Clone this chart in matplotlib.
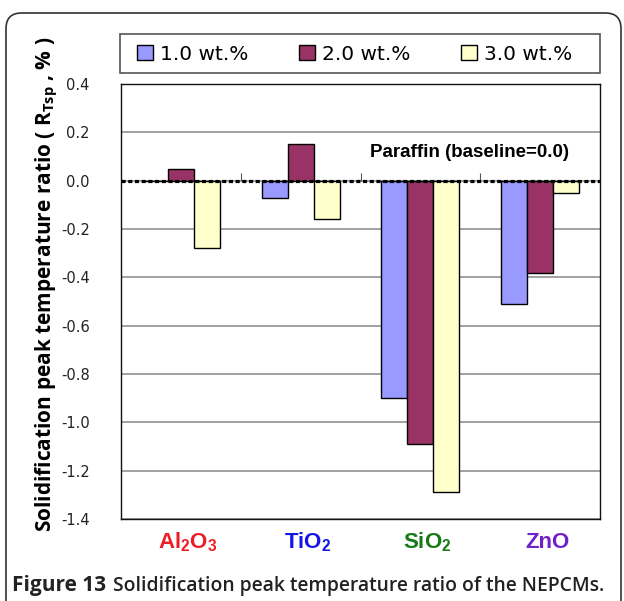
import numpy as np
import matplotlib.pyplot as plt
from matplotlib.patches import FancyBboxPatch, Patch, Rectangle

plt.rcParams['mathtext.fontset'] = 'custom'
plt.rcParams['mathtext.rm'] = 'Liberation Sans:bold'
plt.rcParams['mathtext.bf'] = 'Liberation Sans:bold'
plt.rcParams['mathtext.it'] = 'Liberation Sans:bold'

# data
materials = ['Al$_2$O$_3$', 'TiO$_2$', 'SiO$_2$', 'ZnO']
material_colors = ['#ee1c24', '#1515e6', '#167a16', '#7020c8']
series_names = ['1.0 wt.%', '2.0 wt.%', '3.0 wt.%']
series_colors = ['#9999ff', '#993366', '#ffffcc']
wt1 = [0.0, -0.07, -0.90, -0.51]
wt2 = [0.05, 0.15, -1.09, -0.38]
wt3 = [-0.28, -0.16, -1.29, -0.05]
yticks = [0.4, 0.2, 0.0, -0.2, -0.4, -0.6, -0.8, -1.0, -1.2, -1.4]

fig = plt.figure(figsize=(6.24, 6.01), dpi=100)
ax = fig.add_axes([121 / 624, 82 / 601, 479 / 624, 435 / 601])

x = np.arange(len(materials))
w = 0.217
for i, (vals, c, name) in enumerate(zip([wt1, wt2, wt3], series_colors, series_names)):
    ax.bar(x + (i - 1) * w, vals, w, color=c, edgecolor='black', linewidth=1.0,
           label=name, zorder=3)

ax.set_xlim(-0.5, len(materials) - 0.5)
ax.set_ylim(-1.4, 0.4)
ax.set_yticks(yticks)
ax.set_yticklabels([f'{v:.1f}' for v in yticks], family='DejaVu Sans',
                   fontsize=10.5, color='#222222')
ax.tick_params(axis='y', length=0, pad=22.5)
ax.set_xticks([])
ax.yaxis.grid(True, color='#888888', linewidth=1.1, zorder=0)
ax.set_axisbelow(True)
for s in ax.spines.values():
    s.set_linewidth(1.0)
    s.set_color('#111111')

# baseline
ax.axhline(0, color='black', linewidth=2.3, linestyle=(0, (1.3, 0.8)), zorder=5)
ax.vlines(x[1:] - 0.5, 0, 0.03, color='#555555', linewidth=0.8, zorder=4)
ax.text(1.58, 0.117, 'Paraffin (baseline=0.0)', family='Liberation Sans',
        fontweight='bold', fontsize=13.5, va='center', ha='left', zorder=6)

# category labels
for xi, lab, c in zip(x, materials, material_colors):
    ax.text(xi + 0.06, -0.067, lab, transform=ax.get_xaxis_transform(),
            ha='center', va='baseline', color=c, family='Liberation Sans',
            fontweight='bold', fontsize=16)

ax.set_ylabel('Solidification peak temperature ratio ( R$_{\\mathregular{Tsp}}$ , % )',
              family='Open Sans', fontweight='bold', fontsize=15)
ax.yaxis.set_label_coords(-0.13, 0.54)

# legend frame drawn separately so it spans the plot width
fig.add_artist(Rectangle((120 / 624, (601 - 73) / 601), 480 / 624, 39 / 601,
                         transform=fig.transFigure, facecolor='none',
                         edgecolor='#555555', linewidth=1.2))
handles = [Patch(facecolor=c, edgecolor='black', linewidth=1.0) for c in series_colors]
leg = ax.legend(handles, series_names, loc='center left', ncol=3,
                bbox_to_anchor=(137 / 624, (601 - 54) / 601),
                bbox_transform=fig.transFigure,
                prop={'family': 'DejaVu Sans', 'size': 14.5},
                handlelength=0.8, handleheight=0.8, handletextpad=0.35,
                columnspacing=2.5, borderaxespad=0, borderpad=0, frameon=False)

# outer frame
frame = FancyBboxPatch((6 / 624, -0.2), 615 / 624, (601 - 13) / 601 + 0.2,
                       boxstyle='round,pad=0,rounding_size=0.025',
                       mutation_aspect=624 / 601, transform=fig.transFigure,
                       facecolor='none', edgecolor='#333333', linewidth=1.2)
fig.add_artist(frame)

t1 = fig.text(12 / 624, 0.016, 'Figure 13', family='Open Sans', fontweight='bold',
              fontsize=15, va='baseline', color='#222222')
ax.annotate('Solidification peak temperature ratio of the NEPCMs.', xy=(1, 0),
            xycoords=t1, xytext=(5, 0), textcoords='offset points',
            family='Open Sans', fontweight='semibold', fontsize=13.9, va='bottom',
            color='#222222', annotation_clip=False)

fig.savefig('out.png', dpi=100)
